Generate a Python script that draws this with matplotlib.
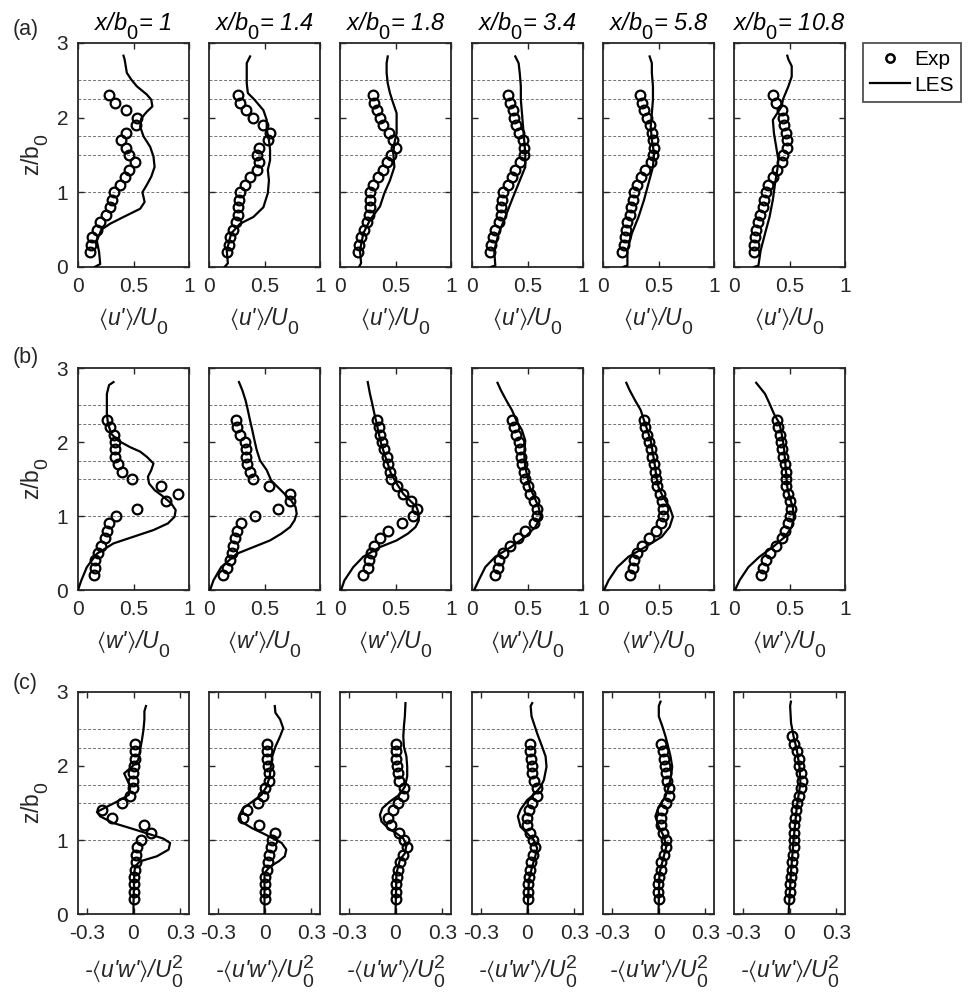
import matplotlib
matplotlib.use('Agg')
import matplotlib.pyplot as plt
import matplotlib._mathtext as mathtext_core
from matplotlib.lines import Line2D

plt.rcParams['font.family'] = ['Liberation Sans', 'DejaVu Sans']
plt.rcParams['mathtext.fontset'] = 'custom'
plt.rcParams['mathtext.rm'] = 'Liberation Sans'
plt.rcParams['mathtext.it'] = 'Liberation Sans:italic'
plt.rcParams['mathtext.fallback'] = 'stixsans'
plt.rcParams['axes.unicode_minus'] = False

# MATLAB-like big, low subscripts
mathtext_core.SHRINK_FACTOR = 0.85
mathtext_core.FontConstantsBase.sub1 = 0.75
mathtext_core.FontConstantsBase.sub2 = 0.75

# stations x/b0
stations = ['1', '1.4', '1.8', '3.4', '5.8', '10.8']

# experiment heights z/b0
exp_z = [0.2, 0.3, 0.4, 0.5, 0.6, 0.7, 0.8, 0.9, 1.0, 1.1, 1.2,
         1.3, 1.4, 1.5, 1.6, 1.7, 1.8, 1.9, 2.0, 2.1, 2.2, 2.3]
exp_z_long = exp_z + [2.4]

# (a) <u'>/U0
u_exp = [
    [0.11, 0.12, 0.13, 0.17, 0.20, 0.25, 0.29, 0.31, 0.32, 0.38, 0.42,
     0.46, 0.51, 0.46, 0.43, 0.39, 0.43, 0.52, 0.53, 0.43, 0.33, 0.28],
    [0.16, 0.18, 0.19, 0.22, 0.24, 0.26, 0.26, 0.27, 0.28, 0.32, 0.37,
     0.43, 0.45, 0.43, 0.45, 0.53, 0.55, 0.49, 0.40, 0.33, 0.28, 0.26],
    [0.16, 0.17, 0.19, 0.22, 0.24, 0.26, 0.27, 0.27, 0.27, 0.30, 0.34,
     0.39, 0.42, 0.46, 0.50, 0.48, 0.44, 0.39, 0.36, 0.33, 0.31, 0.30],
    [0.16, 0.17, 0.19, 0.21, 0.24, 0.26, 0.26, 0.27, 0.28, 0.32, 0.36,
     0.39, 0.43, 0.47, 0.47, 0.46, 0.42, 0.40, 0.38, 0.37, 0.34, 0.32],
    [0.17, 0.19, 0.20, 0.21, 0.22, 0.24, 0.25, 0.27, 0.28, 0.31, 0.34,
     0.38, 0.43, 0.45, 0.46, 0.45, 0.44, 0.42, 0.40, 0.37, 0.35, 0.33],
    [0.18, 0.18, 0.19, 0.20, 0.22, 0.23, 0.26, 0.27, 0.29, 0.31, 0.35,
     0.39, 0.43, 0.44, 0.48, 0.48, 0.47, 0.45, 0.44, 0.43, 0.38, 0.35],
]
u_les_z = [
    [0, 0.04, 0.2, 0.35, 0.5, 0.58, 0.67, 0.78, 0.87, 0.94, 1.0, 1.1, 1.21, 1.34, 1.48,
     1.61, 1.75, 1.88, 1.99, 2.08, 2.15, 2.24, 2.31, 2.42, 2.51, 2.6, 2.69, 2.78, 2.83],
    [0, 0.05, 0.22, 0.45, 0.58, 0.67, 0.8, 0.99, 1.16, 1.3, 1.43, 1.57, 1.7, 1.84,
     1.97, 2.1, 2.24, 2.33, 2.46, 2.6, 2.73, 2.82],
    [0, 0.05, 0.22, 0.45, 0.63, 0.81, 0.99, 1.16, 1.34, 1.52, 1.66, 1.79, 1.93,
     2.06, 2.19, 2.33, 2.46, 2.6, 2.73, 2.82],
    [0, 0.02, 0.22, 0.45, 0.67, 0.9, 1.12, 1.34, 1.52, 1.7, 1.88, 2.06, 2.24, 2.42,
     2.6, 2.73, 2.82],
    [0, 0.02, 0.22, 0.45, 0.67, 0.9, 1.12, 1.34, 1.52, 1.7, 1.88, 2.06, 2.24, 2.42,
     2.6, 2.73, 2.82],
    [0, 0.02, 0.22, 0.45, 0.67, 0.9, 1.12, 1.3, 1.43, 1.61, 1.79, 1.97, 2.06, 2.15,
     2.24, 2.42, 2.55, 2.69, 2.78, 2.83],
]
u_les = [
    [0.15, 0.2, 0.19, 0.17, 0.21, 0.29, 0.41, 0.56, 0.60, 0.59, 0.58, 0.62, 0.66, 0.69, 0.68,
     0.65, 0.59, 0.56, 0.57, 0.62, 0.67, 0.66, 0.62, 0.53, 0.48, 0.44, 0.43, 0.42, 0.41],
    [0.14, 0.17, 0.16, 0.20, 0.28, 0.40, 0.49, 0.53, 0.54, 0.53, 0.55, 0.55, 0.54, 0.52,
     0.52, 0.49, 0.41, 0.35, 0.34, 0.34, 0.34, 0.37],
    [0.17, 0.19, 0.18, 0.21, 0.27, 0.36, 0.40, 0.45, 0.49, 0.48, 0.49, 0.51, 0.51,
     0.51, 0.48, 0.45, 0.43, 0.42, 0.42, 0.43],
    [0.17, 0.21, 0.20, 0.24, 0.30, 0.36, 0.42, 0.48, 0.48, 0.47, 0.46, 0.45, 0.44, 0.44,
     0.43, 0.42, 0.39],
    [0.18, 0.22, 0.22, 0.26, 0.32, 0.37, 0.41, 0.45, 0.46, 0.44, 0.43, 0.44, 0.45, 0.45,
     0.44, 0.44, 0.42],
    [0.18, 0.22, 0.24, 0.28, 0.32, 0.35, 0.37, 0.39, 0.40, 0.38, 0.36, 0.35, 0.39, 0.43,
     0.44, 0.49, 0.52, 0.52, 0.49, 0.48],
]

# (b) <w'>/U0
w_exp = [
    [0.14, 0.15, 0.15, 0.18, 0.21, 0.24, 0.26, 0.28, 0.34, 0.53, 0.79,
     0.90, 0.75, 0.49, 0.40, 0.36, 0.33, 0.33, 0.33, 0.32, 0.29, 0.26],
    [0.13, 0.16, 0.19, 0.21, 0.22, 0.23, 0.25, 0.29, 0.41, 0.62, 0.73,
     0.73, 0.54, 0.40, 0.37, 0.34, 0.33, 0.33, 0.32, 0.28, 0.25, 0.24],
    [0.21, 0.25, 0.26, 0.28, 0.31, 0.36, 0.43, 0.56, 0.66, 0.69, 0.64,
     0.57, 0.51, 0.46, 0.45, 0.43, 0.42, 0.40, 0.38, 0.36, 0.35, 0.33],
    [0.21, 0.23, 0.24, 0.28, 0.34, 0.41, 0.48, 0.56, 0.59, 0.59, 0.56,
     0.52, 0.50, 0.48, 0.47, 0.45, 0.44, 0.43, 0.42, 0.40, 0.38, 0.36],
    [0.24, 0.27, 0.28, 0.31, 0.35, 0.41, 0.48, 0.52, 0.54, 0.54, 0.53,
     0.51, 0.49, 0.48, 0.47, 0.46, 0.44, 0.43, 0.41, 0.40, 0.38, 0.37],
    [0.24, 0.26, 0.29, 0.32, 0.38, 0.43, 0.46, 0.49, 0.50, 0.51, 0.50,
     0.49, 0.47, 0.47, 0.47, 0.46, 0.44, 0.43, 0.42, 0.41, 0.40, 0.39],
]
w_les_z = [
    [0, 0.13, 0.31, 0.49, 0.63, 0.72, 0.81, 0.9, 0.99, 1.08, 1.17, 1.26, 1.35, 1.44,
     1.53, 1.62, 1.71, 1.8, 1.87, 1.93, 2.02, 2.11, 2.25, 2.38, 2.52, 2.65, 2.77, 2.81],
    [0, 0.13, 0.31, 0.49, 0.58, 0.67, 0.76, 0.85, 0.94, 1.03, 1.12, 1.21, 1.3, 1.39,
     1.48, 1.62, 1.75, 1.89, 2.02, 2.16, 2.29, 2.43, 2.56, 2.7, 2.81],
    [0, 0.13, 0.31, 0.45, 0.58, 0.67, 0.76, 0.85, 0.94, 1.03, 1.12, 1.21, 1.3, 1.44,
     1.57, 1.71, 1.84, 1.98, 2.11, 2.25, 2.38, 2.52, 2.65, 2.81],
    [0, 0.13, 0.31, 0.45, 0.58, 0.72, 0.85, 0.99, 1.12, 1.26, 1.39, 1.53, 1.66, 1.84,
     2.02, 2.16, 2.29, 2.43, 2.56, 2.7, 2.8],
    [0, 0.13, 0.31, 0.45, 0.58, 0.72, 0.85, 0.99, 1.12, 1.26, 1.39, 1.53, 1.66, 1.84,
     2.02, 2.16, 2.29, 2.43, 2.56, 2.7, 2.8],
    [0, 0.13, 0.31, 0.45, 0.58, 0.72, 0.85, 0.99, 1.12, 1.26, 1.39, 1.57, 1.75, 1.93,
     2.11, 2.25, 2.38, 2.52, 2.65, 2.8],
]
w_les = [
    [0, 0.03, 0.08, 0.17, 0.32, 0.50, 0.68, 0.81, 0.87, 0.88, 0.84, 0.77, 0.69, 0.64,
     0.63, 0.66, 0.68, 0.62, 0.56, 0.47, 0.36, 0.30, 0.27, 0.26, 0.26, 0.26, 0.28, 0.32],
    [0.01, 0.04, 0.11, 0.25, 0.40, 0.55, 0.65, 0.73, 0.77, 0.79, 0.78, 0.74, 0.68, 0.62,
     0.56, 0.52, 0.46, 0.43, 0.41, 0.39, 0.37, 0.35, 0.33, 0.30, 0.27],
    [0.01, 0.04, 0.12, 0.21, 0.36, 0.51, 0.61, 0.68, 0.71, 0.71, 0.69, 0.63, 0.57, 0.51,
     0.46, 0.43, 0.40, 0.37, 0.35, 0.33, 0.31, 0.29, 0.27, 0.25],
    [0.02, 0.06, 0.12, 0.21, 0.35, 0.48, 0.57, 0.62, 0.60, 0.56, 0.52, 0.50, 0.48, 0.47,
     0.48, 0.45, 0.40, 0.36, 0.31, 0.26, 0.23],
    [0.01, 0.05, 0.13, 0.23, 0.38, 0.53, 0.60, 0.63, 0.60, 0.54, 0.50, 0.48, 0.47, 0.45,
     0.43, 0.40, 0.37, 0.34, 0.29, 0.24, 0.21],
    [0.01, 0.05, 0.13, 0.23, 0.35, 0.46, 0.52, 0.54, 0.53, 0.50, 0.48, 0.47, 0.46, 0.45,
     0.43, 0.41, 0.36, 0.32, 0.28, 0.20],
]

# (c) -<u'w'>/U0^2
uw_exp = [
    [0.0, 0.0, 0.0, 0.0, 0.01, 0.015, 0.017, 0.02, 0.05, 0.11, 0.07,
     -0.14, -0.20, -0.075, -0.02, -0.006, -0.006, -0.006, 0.0, 0.01, 0.01, 0.01],
    [0.0, 0.0, 0.0, 0.005, 0.013, 0.024, 0.03, 0.04, 0.05, 0.066, -0.034,
     -0.137, -0.11, -0.04, -0.009, 0.006, 0.03, 0.03, 0.02, 0.013, 0.013, 0.013],
    [0.0, 0.002, 0.006, 0.01, 0.017, 0.028, 0.05, 0.075, 0.054, 0.024, -0.03,
     -0.047, -0.015, 0.017, 0.045, 0.054, 0.024, 0.013, 0.01, 0.006, 0.006, 0.006],
    [0.0, 0.002, 0.004, 0.009, 0.015, 0.024, 0.036, 0.05, 0.036, 0.015, -0.006,
     -0.006, 0.009, 0.03, 0.058, 0.062, 0.04, 0.03, 0.026, 0.024, 0.019, 0.015],
    [0.0, -0.002, -0.002, 0.002, 0.013, 0.019, 0.034, 0.045, 0.045, 0.03, 0.019,
     0.013, 0.024, 0.05, 0.066, 0.066, 0.056, 0.045, 0.04, 0.034, 0.03, 0.019],
    [-0.006, 0.0, 0.004, 0.01, 0.015, 0.019, 0.02, 0.026, 0.028, 0.03, 0.032,
     0.036, 0.043, 0.05, 0.062, 0.073, 0.08, 0.073, 0.064, 0.058, 0.047, 0.03, 0.019],
]
uw_les_z = [
    [0, 0.14, 0.55, 0.64, 0.71, 0.78, 0.87, 0.96, 1.02, 1.09, 1.16, 1.23, 1.32, 1.38,
     1.45, 1.54, 1.61, 1.72, 1.81, 1.9, 1.99, 2.08, 2.22, 2.35, 2.49, 2.63, 2.74, 2.81],
    [0, 0.55, 0.64, 0.71, 0.78, 0.87, 0.96, 1.02, 1.09, 1.16, 1.25, 1.34, 1.43, 1.52,
     1.61, 1.72, 1.86, 1.99, 2.13, 2.26, 2.4, 2.51, 2.63, 2.72, 2.81],
    [0, 0.55, 0.73, 0.82, 0.93, 1.02, 1.09, 1.16, 1.25, 1.34, 1.43, 1.52, 1.61, 1.72,
     1.86, 1.99, 2.13, 2.26, 2.4, 2.54, 2.67, 2.85],
    [0, 0.46, 0.64, 0.78, 0.89, 1.0, 1.09, 1.18, 1.32, 1.41, 1.54, 1.63, 1.72, 1.81,
     1.99, 2.13, 2.26, 2.44, 2.67, 2.81, 2.85],
    [0, 0.55, 0.78, 0.91, 1.05, 1.18, 1.32, 1.45, 1.59, 1.72, 1.86, 1.99, 2.13, 2.26,
     2.4, 2.54, 2.67, 2.81, 2.87],
    [0, 0.55, 1.0, 1.45, 1.77, 1.99, 2.22, 2.4, 2.58, 2.81, 2.87],
]
uw_les = [
    [0, 0, 0.005, 0.01, 0.04, 0.15, 0.225, 0.235, 0.19, 0.086, -0.02, -0.13, -0.214, -0.235,
     -0.17, -0.086, -0.03, -0.02, -0.04, -0.06, -0.01, 0.03, 0.043, 0.054, 0.064, 0.07, 0.07, 0.08],
    [0, 0, 0.034, 0.09, 0.13, 0.14, 0.11, 0.056, -0.01, -0.08, -0.15, -0.16, -0.137, -0.077,
     -0.02, 0.013, 0.034, 0.04, 0.05, 0.07, 0.1, 0.12, 0.1, 0.07, 0.066],
    [0, 0.006, 0.028, 0.06, 0.07, 0.05, 0.006, -0.047, -0.09, -0.1, -0.084, -0.036, 0.024,
     0.06, 0.075, 0.075, 0.07, 0.054, 0.05, 0.054, 0.06, 0.064],
    [0, 0.009, 0.03, 0.05, 0.062, 0.04, -0.002, -0.045, -0.062, -0.045, -0.002, 0.05, 0.084,
     0.105, 0.122, 0.116, 0.094, 0.062, 0.026, 0.02, 0.03],
    [0, 0.006, 0.034, 0.05, 0.034, 0.002, -0.02, 0.002, 0.045, 0.066, 0.08, 0.088, 0.077,
     0.062, 0.045, 0.024, 0.002, 0.002, 0.013],
    [-0.006, 0.009, 0.026, 0.047, 0.07, 0.064, 0.047, 0.026, 0.01, 0.004, 0.009],
]

grid_levels = [1.0, 1.5, 1.75, 2.25, 2.5]

rows = [
    dict(exp=u_exp, lz=u_les_z, lx=u_les, xlim=(0, 1), ticks=[0, 0.5, 1],
         tlabels=['0', '0.5', '1'], label=r"$\langle$u'$\rangle$/U$_\mathit{0}$", tag='(a)'),
    dict(exp=w_exp, lz=w_les_z, lx=w_les, xlim=(0, 1), ticks=[0, 0.5, 1],
         tlabels=['0', '0.5', '1'], label=r"$\langle$w'$\rangle$/U$_\mathit{0}$", tag='(b)'),
    dict(exp=uw_exp, lz=uw_les_z, lx=uw_les, xlim=(-0.356, 0.356), ticks=[-0.3, 0, 0.3],
         tlabels=['-0.3', '0', '0.3'],
         label=r"-$\langle$u'w'$\rangle$/U$_\mathit{0}^\mathit{2}$", tag='(c)'),
]

W, H = 968, 1001
col_left = [78, 209, 340, 472, 603, 734]
ax_w = 111
row_top = [43, 368, 692]
ax_h = [224, 222, 222]
dark = '#262626'

fig = plt.figure(figsize=(W / 100, H / 100), dpi=100)

for r, row in enumerate(rows):
    for c in range(6):
        ax = fig.add_axes([col_left[c] / W, 1 - (row_top[r] + ax_h[r]) / H,
                           ax_w / W, ax_h[r] / H])
        for g in grid_levels:
            ax.axhline(g, color='0.45', lw=0.7, ls=(0, (3, 2)), zorder=1)
        zz = exp_z_long if len(row['exp'][c]) == len(exp_z_long) else exp_z
        ax.plot(row['lx'][c], row['lz'][c], color='k', lw=1.6, zorder=3)
        ax.plot(row['exp'][c], zz, 'o', mfc='none', mec='k', ms=7, mew=1.6, zorder=4)
        ax.set_xlim(*row['xlim'])
        ax.set_ylim(0, 3)
        ax.set_xticks(row['ticks'])
        ax.set_xticklabels(row['tlabels'])
        ax.set_yticks([0, 1, 2, 3])
        ax.tick_params(direction='in', top=True, right=True, length=4, width=1,
                       colors=dark, labelsize=15, pad=7)
        if c > 0:
            ax.set_yticklabels([])
        else:
            ax.set_ylabel(r'z/b$_\mathrm{0}$', fontsize=16.5, color=dark, labelpad=4)
        for s in ax.spines.values():
            s.set_color(dark)
            s.set_linewidth(1.3)
        ax.set_xlabel(row['label'], fontsize=16.5, color=dark, labelpad=7,
                      fontstyle='italic')
        if r == 0:
            ax.set_title('x/b$_\\mathit{0}$= ' + stations[c], fontsize=17,
                         fontstyle='italic', pad=9)
    fig.text(13 / W, 1 - [29, 357, 683][r] / H, row['tag'], fontsize=15.5,
             ha='left', va='center', color=dark)

handles = [Line2D([], [], ls='none', marker='o', mfc='none', mec='k', ms=6, mew=1.8),
           Line2D([], [], color='k', lw=1.6)]
leg = fig.legend(handles, ['Exp', 'LES'], loc='upper left',
                 bbox_to_anchor=(863 / W, 1 - 43 / H), fontsize=15, frameon=True,
                 fancybox=False, edgecolor=dark, handlelength=1.9, handletextpad=0.2,
                 borderpad=0.35, labelspacing=0.3, borderaxespad=0)
leg.get_frame().set_linewidth(1.3)

fig.savefig('out.png', dpi=100)
